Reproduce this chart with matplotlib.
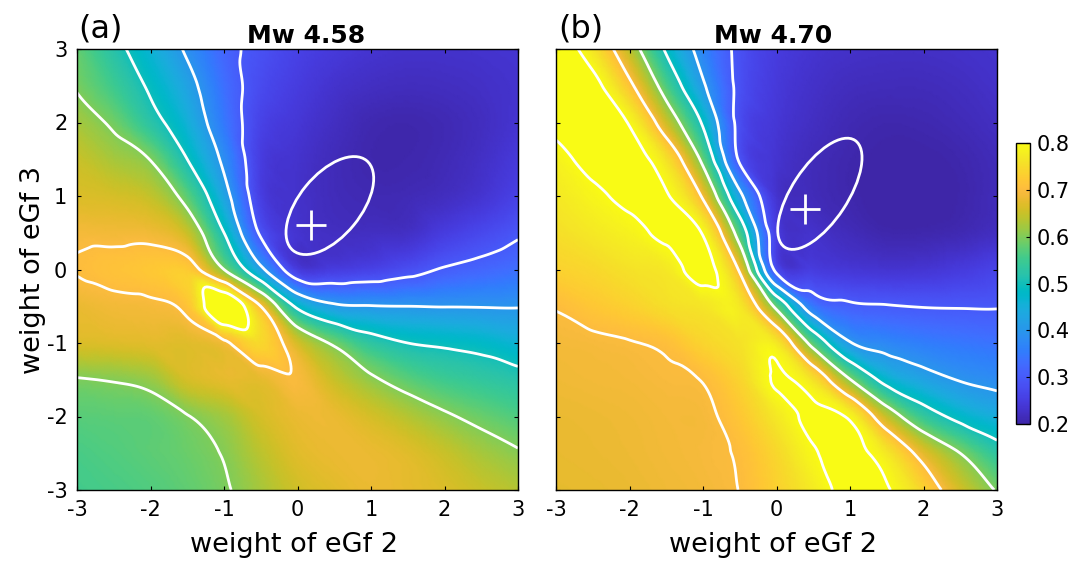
import numpy as np
import matplotlib
matplotlib.use("Agg")
import matplotlib.pyplot as plt
import matplotlib.tri as mtri
from matplotlib.colors import LinearSegmentedColormap, Normalize
from matplotlib.patches import Ellipse
from matplotlib.cm import ScalarMappable

plt.rcParams['font.family'] = ['DejaVu Sans']
plt.rcParams['axes.unicode_minus'] = False

# ---------------- data ----------------
weights = [-3.0, -2.5, -2.0, -1.5, -1.0, -0.5, 0.0, 0.5, 1.0, 1.5, 2.0, 2.5, 3.0]
tick_vals = [-3, -2, -1, 0, 1, 2, 3]
titles = ["Mw 4.58", "Mw 4.70"]
panel_tags = ["(a)", "(b)"]
xlabel = "weight of eGf 2"
ylabel = "weight of eGf 3"
levels = [0.3, 0.4, 0.5, 0.6, 0.7, 0.8]
cbar_ticks = [0.2, 0.3, 0.4, 0.5, 0.6, 0.7, 0.8]

# misfit grids: rows go from weight3 = +3 (top) down to -3, columns weight2 = -3..3
misfit_a = [
    [0.580, 0.520, 0.460, 0.390, 0.320, 0.285, 0.260, 0.245, 0.235, 0.230, 0.230, 0.232, 0.235],
    [0.595, 0.550, 0.490, 0.425, 0.335, 0.275, 0.250, 0.232, 0.222, 0.218, 0.220, 0.225, 0.232],
    [0.625, 0.590, 0.525, 0.455, 0.350, 0.262, 0.240, 0.222, 0.208, 0.205, 0.210, 0.220, 0.235],
    [0.650, 0.625, 0.598, 0.500, 0.385, 0.252, 0.232, 0.215, 0.205, 0.205, 0.212, 0.225, 0.245],
    [0.665, 0.660, 0.645, 0.575, 0.430, 0.255, 0.230, 0.215, 0.210, 0.212, 0.220, 0.235, 0.260],
    [0.690, 0.688, 0.686, 0.650, 0.500, 0.290, 0.235, 0.222, 0.222, 0.225, 0.250, 0.270, 0.293],
    [0.702, 0.712, 0.720, 0.725, 0.600, 0.420, 0.250, 0.250, 0.260, 0.280, 0.305, 0.320, 0.335],
    [0.680, 0.688, 0.692, 0.715, 0.880, 0.700, 0.485, 0.412, 0.4025, 0.400, 0.398, 0.3975, 0.397],
    [0.665, 0.668, 0.672, 0.670, 0.690, 0.745, 0.660, 0.590, 0.530, 0.500, 0.490, 0.480, 0.460],
    [0.597, 0.603, 0.615, 0.660, 0.675, 0.675, 0.695, 0.650, 0.610, 0.575, 0.550, 0.535, 0.520],
    [0.572, 0.575, 0.578, 0.598, 0.622, 0.660, 0.680, 0.680, 0.660, 0.635, 0.608, 0.585, 0.565],
    [0.560, 0.567, 0.575, 0.585, 0.603, 0.640, 0.670, 0.680, 0.680, 0.670, 0.650, 0.625, 0.605],
    [0.555, 0.560, 0.567, 0.578, 0.595, 0.625, 0.655, 0.670, 0.680, 0.675, 0.665, 0.650, 0.635],
]
misfit_b = [
    [0.840, 0.765, 0.640, 0.490, 0.370, 0.285, 0.250, 0.235, 0.228, 0.225, 0.225, 0.228, 0.232],
    [0.850, 0.820, 0.715, 0.565, 0.410, 0.285, 0.245, 0.228, 0.218, 0.215, 0.215, 0.220, 0.228],
    [0.815, 0.835, 0.795, 0.655, 0.490, 0.280, 0.240, 0.222, 0.210, 0.205, 0.207, 0.213, 0.222],
    [0.785, 0.815, 0.820, 0.760, 0.580, 0.290, 0.235, 0.215, 0.205, 0.200, 0.200, 0.205, 0.215],
    [0.770, 0.790, 0.810, 0.805, 0.690, 0.420, 0.235, 0.215, 0.205, 0.198, 0.198, 0.203, 0.215],
    [0.755, 0.770, 0.785, 0.810, 0.795, 0.560, 0.255, 0.230, 0.215, 0.205, 0.205, 0.210, 0.222],
    [0.735, 0.745, 0.760, 0.770, 0.820, 0.690, 0.280, 0.250, 0.240, 0.235, 0.237, 0.247, 0.262],
    [0.703, 0.720, 0.735, 0.755, 0.765, 0.770, 0.580, 0.350, 0.310, 0.303, 0.298, 0.297, 0.297],
    [0.690, 0.693, 0.698, 0.708, 0.740, 0.760, 0.770, 0.570, 0.405, 0.374, 0.357, 0.347, 0.339],
    [0.685, 0.688, 0.690, 0.695, 0.702, 0.740, 0.805, 0.760, 0.603, 0.474, 0.427, 0.397, 0.383],
    [0.680, 0.682, 0.685, 0.690, 0.692, 0.720, 0.770, 0.810, 0.790, 0.647, 0.540, 0.480, 0.446],
    [0.678, 0.680, 0.683, 0.688, 0.693, 0.705, 0.745, 0.795, 0.815, 0.770, 0.675, 0.600, 0.530],
    [0.675, 0.677, 0.680, 0.685, 0.690, 0.701, 0.735, 0.775, 0.815, 0.805, 0.740, 0.660, 0.595],
]
# best-fit point and confidence ellipse (center x, center y, full major, full minor, angle deg)
best_a = [0.19, 0.60]
best_b = [0.39, 0.82]
ellipse_a = [0.44, 0.87, 1.58, 0.84, 50.7]
ellipse_b = [0.59, 1.03, 1.74, 0.76, 56.7]

# ---------------- colormap (parula) ----------------
parula_colors = [
    [0.2422, 0.1504, 0.6603], [0.2504, 0.1650, 0.7076], [0.2578, 0.1818, 0.7511],
    [0.2647, 0.1978, 0.7952], [0.2706, 0.2147, 0.8364], [0.2751, 0.2342, 0.8710],
    [0.2783, 0.2559, 0.8991], [0.2803, 0.2782, 0.9221], [0.2813, 0.3006, 0.9414],
    [0.2810, 0.3228, 0.9579], [0.2795, 0.3447, 0.9717], [0.2760, 0.3667, 0.9829],
    [0.2699, 0.3892, 0.9906], [0.2602, 0.4123, 0.9952], [0.2440, 0.4358, 0.9988],
    [0.2206, 0.4603, 0.9973], [0.1963, 0.4847, 0.9892], [0.1834, 0.5074, 0.9798],
    [0.1786, 0.5289, 0.9682], [0.1764, 0.5499, 0.9520], [0.1687, 0.5703, 0.9359],
    [0.1540, 0.5902, 0.9218], [0.1460, 0.6091, 0.9079], [0.1380, 0.6276, 0.8973],
    [0.1248, 0.6459, 0.8883], [0.1113, 0.6635, 0.8763], [0.0952, 0.6798, 0.8598],
    [0.0689, 0.6948, 0.8394], [0.0297, 0.7082, 0.8163], [0.0036, 0.7203, 0.7917],
    [0.0067, 0.7312, 0.7660], [0.0433, 0.7411, 0.7394], [0.0964, 0.7500, 0.7120],
    [0.1408, 0.7584, 0.6842], [0.1717, 0.7670, 0.6554], [0.1938, 0.7758, 0.6251],
    [0.2161, 0.7843, 0.5923], [0.2470, 0.7918, 0.5567], [0.2906, 0.7973, 0.5188],
    [0.3406, 0.8008, 0.4789], [0.3909, 0.8029, 0.4354], [0.4456, 0.8024, 0.3909],
    [0.5044, 0.7993, 0.3480], [0.5616, 0.7942, 0.3045], [0.6174, 0.7876, 0.2612],
    [0.6720, 0.7793, 0.2227], [0.7242, 0.7698, 0.1910], [0.7738, 0.7598, 0.1646],
    [0.8203, 0.7498, 0.1535], [0.8634, 0.7406, 0.1596], [0.9035, 0.7330, 0.1774],
    [0.9393, 0.7288, 0.2100], [0.9728, 0.7298, 0.2394], [0.9956, 0.7434, 0.2371],
    [0.9970, 0.7659, 0.2199], [0.9952, 0.7893, 0.2028], [0.9892, 0.8136, 0.1885],
    [0.9786, 0.8386, 0.1766], [0.9676, 0.8639, 0.1643], [0.9610, 0.8890, 0.1537],
    [0.9597, 0.9135, 0.1423], [0.9628, 0.9373, 0.1265], [0.9691, 0.9606, 0.1064],
    [0.9769, 0.9839, 0.0805],
]
parula = LinearSegmentedColormap.from_list("parula", parula_colors, N=256)
norm = Normalize(vmin=0.2, vmax=0.8)

# ---------------- figure ----------------
W, H = 1089, 562
fig = plt.figure(figsize=(W / 100, H / 100), dpi=100)

def fx(px):
    return px / W

def fy(py):
    return 1 - py / H

ax_w = 441
ax_h = 441
axes_left = [77, 556]
ax_top = 49

panels = [
    (misfit_a, best_a, ellipse_a),
    (misfit_b, best_b, ellipse_b),
]

# triangulated grid (cells split along the top-left -> bottom-right diagonal)
wx = np.array(weights)
n = len(wx)
X, Y = np.meshgrid(wx, wx[::-1])
tris = []
for r in range(n - 1):
    for c in range(n - 1):
        tl = r * n + c
        tr = r * n + c + 1
        bl = (r + 1) * n + c
        br = (r + 1) * n + c + 1
        tris.append([tl, bl, br])
        tris.append([tl, br, tr])
tri = mtri.Triangulation(X.ravel(), Y.ravel(), triangles=np.array(tris))
refiner = mtri.UniformTriRefiner(tri)

for i, (Z, best, ell) in enumerate(panels):
    ax = fig.add_axes([fx(axes_left[i]), fy(ax_top + ax_h), ax_w / W, ax_h / H])
    z = np.array(Z, dtype=float).ravel()
    interp = mtri.CubicTriInterpolator(tri, z, kind='geom')
    tri_r, z_r = refiner.refine_field(z, triinterpolator=interp, subdiv=4)
    ax.tripcolor(tri_r, z_r, shading='gouraud', cmap=parula, norm=norm,
                 rasterized=True, zorder=1)
    ax.tricontour(tri_r, z_r, levels=levels, colors='white', linewidths=2.0, zorder=2)
    ax.add_patch(Ellipse((ell[0], ell[1]), ell[2], ell[3], angle=ell[4],
                         fill=False, edgecolor='white', linewidth=2.0, zorder=3))
    ax.plot([best[0]], [best[1]], marker='+', color='white', markersize=21,
            markeredgewidth=2.0, zorder=4)
    ax.set_xlim(-3, 3)
    ax.set_ylim(-3, 3)
    ax.set_xticks(tick_vals)
    ax.set_yticks(tick_vals)
    ax.set_xticklabels([str(t) for t in tick_vals])
    ax.set_yticklabels([str(t) for t in tick_vals])
    ax.tick_params(direction='in', length=3, width=0.8, top=True, right=True,
                   labelsize=15, pad=7, colors='black')
    for sp in ax.spines.values():
        sp.set_linewidth(1.0)
        sp.set_color('black')
    ax.set_xlabel(xlabel, fontsize=19.5)
    ax.xaxis.set_label_coords(0.492, -0.096)
    if i == 0:
        ax.set_ylabel(ylabel, fontsize=19.5)
        ax.yaxis.set_label_coords(-0.070, 0.5)
    else:
        ax.set_yticklabels([])

# titles and panel tags
fig.text(fx(306), fy(43), titles[0], ha='center', va='baseline',
         fontsize=18, fontweight='bold')
fig.text(fx(773), fy(43), titles[1], ha='center', va='baseline',
         fontsize=18, fontweight='bold')
fig.text(fx(78), fy(29), panel_tags[0], ha='left', va='center', fontsize=23)
fig.text(fx(558), fy(29), panel_tags[1], ha='left', va='center', fontsize=23)

# colorbar
cax = fig.add_axes([fx(1016), fy(424), 14 / W, 281 / H])
sm = ScalarMappable(norm=norm, cmap=parula)
cb = fig.colorbar(sm, cax=cax, ticks=cbar_ticks)
cb.ax.set_yticklabels([f"{t:.1f}" for t in cbar_ticks])
cb.ax.tick_params(direction='in', length=3, width=0.8, labelsize=15, pad=5)
cb.outline.set_linewidth(1.0)

fig.savefig("out.png", dpi=100)
